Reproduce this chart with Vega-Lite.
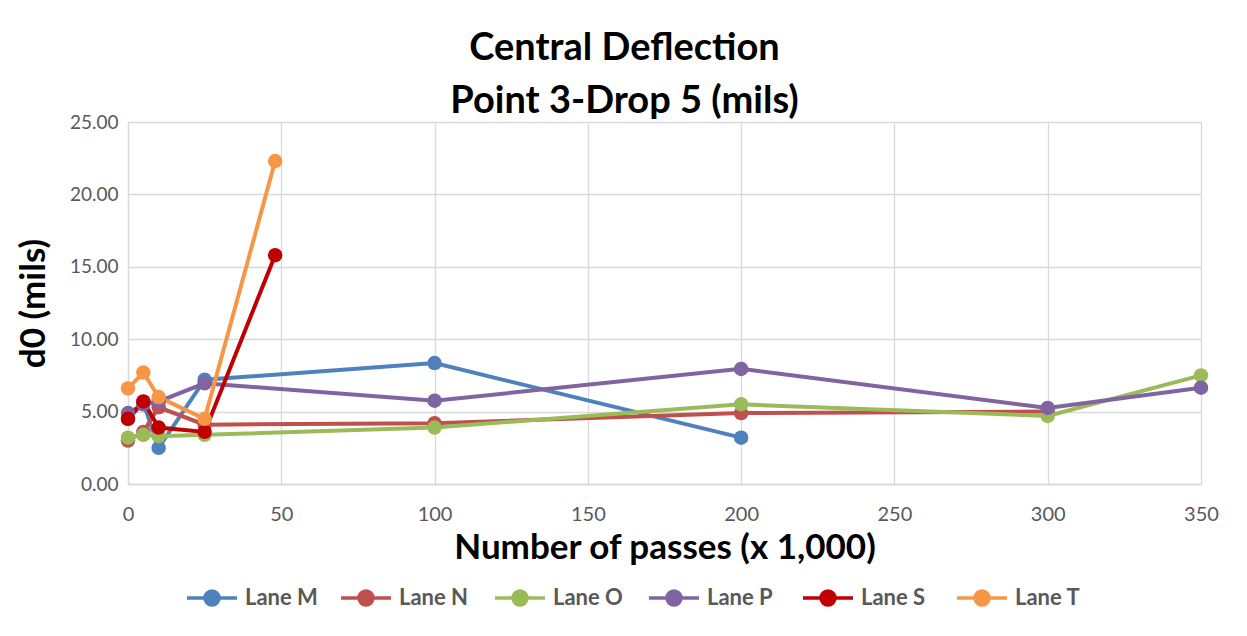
{
  "$schema": "https://vega.github.io/schema/vega-lite/v6.json",
  "width": 1073,
  "height": 362,
  "autosize": {"type": "none"},
  "padding": {"left": 128, "top": 122, "right": 46, "bottom": 152},
  "background": "white",
  "title": {
    "text": ["Central Deflection", "Point 3-Drop 5 (mils)"],
    "font": "Lato",
    "fontSize": 38,
    "fontWeight": "bold",
    "color": "#000000",
    "anchor": "middle",
    "dx": -40,
    "offset": -8,
    "lineHeight": 53
  },
  "data": {
    "values": [
      {"lane": "Lane M", "x": 0, "d0": 4.5},
      {"lane": "Lane M", "x": 5, "d0": 5.6},
      {"lane": "Lane M", "x": 10, "d0": 2.5},
      {"lane": "Lane M", "x": 25, "d0": 7.2},
      {"lane": "Lane M", "x": 100, "d0": 8.35},
      {"lane": "Lane M", "x": 200, "d0": 3.2},
      {"lane": "Lane N", "x": 0, "d0": 3.0},
      {"lane": "Lane N", "x": 5, "d0": 3.6},
      {"lane": "Lane N", "x": 10, "d0": 5.3},
      {"lane": "Lane N", "x": 25, "d0": 4.1},
      {"lane": "Lane N", "x": 100, "d0": 4.2},
      {"lane": "Lane N", "x": 200, "d0": 4.9},
      {"lane": "Lane N", "x": 300, "d0": 5.0},
      {"lane": "Lane O", "x": 0, "d0": 3.2},
      {"lane": "Lane O", "x": 5, "d0": 3.4},
      {"lane": "Lane O", "x": 10, "d0": 3.3},
      {"lane": "Lane O", "x": 25, "d0": 3.4},
      {"lane": "Lane O", "x": 100, "d0": 3.9},
      {"lane": "Lane O", "x": 200, "d0": 5.5},
      {"lane": "Lane O", "x": 300, "d0": 4.7},
      {"lane": "Lane O", "x": 350, "d0": 7.5},
      {"lane": "Lane P", "x": 0, "d0": 4.9},
      {"lane": "Lane P", "x": 5, "d0": 5.5},
      {"lane": "Lane P", "x": 10, "d0": 5.7},
      {"lane": "Lane P", "x": 25, "d0": 6.95},
      {"lane": "Lane P", "x": 100, "d0": 5.75},
      {"lane": "Lane P", "x": 200, "d0": 7.95},
      {"lane": "Lane P", "x": 300, "d0": 5.25},
      {"lane": "Lane P", "x": 350, "d0": 6.65},
      {"lane": "Lane S", "x": 0, "d0": 4.5},
      {"lane": "Lane S", "x": 5, "d0": 5.7},
      {"lane": "Lane S", "x": 10, "d0": 3.9},
      {"lane": "Lane S", "x": 25, "d0": 3.6},
      {"lane": "Lane S", "x": 48, "d0": 15.8},
      {"lane": "Lane T", "x": 0, "d0": 6.6},
      {"lane": "Lane T", "x": 5, "d0": 7.7},
      {"lane": "Lane T", "x": 10, "d0": 6.0},
      {"lane": "Lane T", "x": 25, "d0": 4.5},
      {"lane": "Lane T", "x": 48, "d0": 22.3}
    ]
  },
  "encoding": {
    "x": {
      "field": "x", "type": "quantitative",
      "scale": {"domain": [0, 350], "nice": false, "zero": false},
      "axis": {
        "title": "Number of passes (x 1,000)",
        "values": [0, 50, 100, 150, 200, 250, 300, 350],
        "grid": true,
        "gridColor": "#D9D9D9",
        "gridWidth": 1.3,
        "domainColor": "#D9D9D9",
        "domainWidth": 1.3,
        "ticks": false,
        "labelPadding": 20,
        "labelFont": "Lato",
        "labelFontSize": 20,
        "labelColor": "#595959",
        "labelFlush": false,
        "titleFont": "Lato",
        "titleFontSize": 35,
        "titleFontWeight": "bold",
        "titleColor": "#000000",
        "titlePadding": 6
      }
    },
    "y": {
      "field": "d0", "type": "quantitative",
      "scale": {"domain": [0, 25], "nice": false},
      "axis": {
        "title": "d0 (mils)",
        "values": [0, 5, 10, 15, 20, 25],
        "format": ".2f",
        "grid": true,
        "gridColor": "#D9D9D9",
        "gridWidth": 1.3,
        "domainColor": "#D9D9D9",
        "domainWidth": 1.3,
        "ticks": false,
        "labelPadding": 10,
        "labelFont": "Lato",
        "labelFontSize": 19,
        "labelColor": "#595959",
        "titleFont": "Lato",
        "titleFontSize": 35,
        "titleFontWeight": "bold",
        "titleColor": "#000000",
        "titlePadding": 18
      }
    },
    "color": {
      "field": "lane", "type": "nominal",
      "scale": {
        "domain": ["Lane M", "Lane N", "Lane O", "Lane P", "Lane S", "Lane T"],
        "range": ["#4F81BD", "#C0504D", "#9BBB59", "#8064A2", "#C00000", "#F79646"]
      },
      "legend": {
        "title": null,
        "orient": "none",
        "legendX": 57,
        "legendY": 449,
        "direction": "horizontal",
        "columns": 6,
        "gridAlign": "all",
        "columnPadding": 16,
        "symbolType": "M-1,0L1,0M-0.28,0A0.28,0.28,0,1,1,0.28,0A0.28,0.28,0,1,1,-0.28,0Z",
        "symbolSize": 2500,
        "symbolStrokeWidth": 3.5,
        "labelFont": "Lato",
        "labelFontSize": 22,
        "labelFontWeight": "bold",
        "labelColor": "#595959",
        "labelOffset": 6
      }
    },
    "order": {"field": "x", "type": "quantitative"}
  },
  "layer": [
    {"mark": {"type": "line", "strokeWidth": 4}},
    {"mark": {"type": "point", "filled": true, "size": 210, "opacity": 1}}
  ],
  "config": {"view": {"stroke": null}}
}
